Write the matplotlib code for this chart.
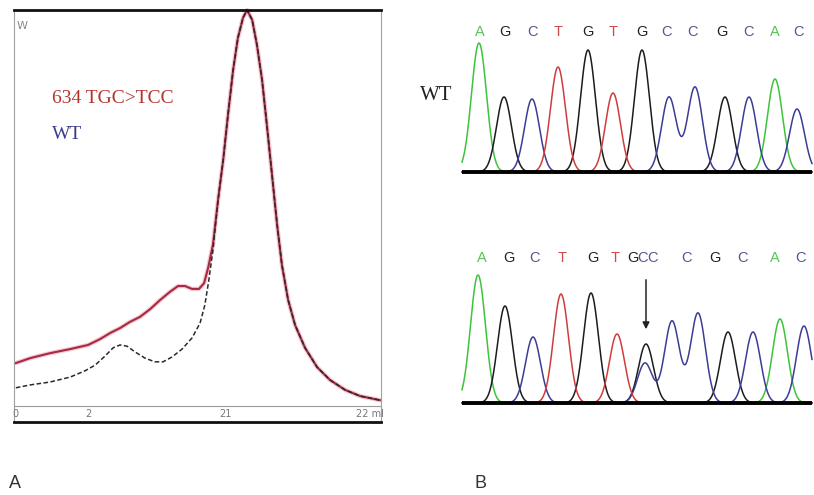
import numpy as np
import matplotlib.pyplot as plt

# ---- panel A: elution profiles (x = % of run, y = % of max signal)
# part of the trace that both samples share (main peak + tail)
shared_x = [55.6, 57.0, 58.3, 59.7, 61.0, 62.4, 63.5, 64.9, 66.2, 67.6, 68.9, 70.3,
            71.7, 73.0, 74.7, 76.6, 79.3, 82.6, 86.1, 90.2, 94.3, 99.7]
shared_y = [53.9, 63.6, 74.5, 85.4, 93.2, 98.1, 100.0, 97.6, 91.5, 83.0, 72.1, 60.0,
            47.8, 38.1, 29.6, 23.5, 18.0, 13.3, 10.2, 7.8, 6.3, 5.3]
mut_x = [0.5, 4.4, 9.8, 15.3, 20.2, 23.4, 26.2, 28.9, 31.6, 34.3, 37.1, 39.8,
         42.5, 44.7, 46.6, 48.5, 50.4, 51.8, 52.9, 54.2]
mut_y = [14.3, 15.5, 16.7, 17.7, 18.7, 20.1, 21.6, 22.8, 24.3, 25.5, 27.4, 29.6,
         31.6, 33.0, 33.0, 32.3, 32.3, 33.7, 37.4, 43.0]
wt_x = [0.5, 4.4, 9.8, 15.3, 19.3, 22.1, 24.8, 27.0, 28.9, 30.8, 33.0, 35.7,
        38.4, 40.6, 43.1, 45.8, 48.5, 50.7, 52.0, 53.1, 54.2]
wt_y = [8.3, 9.0, 9.7, 10.9, 12.4, 13.8, 16.0, 18.0, 18.7, 18.4, 17.0, 15.5,
        14.6, 14.6, 15.8, 17.7, 20.4, 24.0, 28.4, 34.5, 41.7]
tick_pos = [0.4, 20.2, 57.5, 97.0]
tick_lab = ["0", "2", "21", "22 ml"]

# ---- panel B: sequencing chromatograms (x = scan, y = signal)
wt_seq = list("AGCTGTGCCGCAC")
wt_seq_pos = [25, 50, 77, 103, 133, 158, 187, 212, 238, 267, 293, 320, 343]
wt_peak_pos = [24, 49, 77, 103, 133, 158, 187, 214, 240, 270, 294, 320, 342]
wt_peak_h = [129, 75, 73, 105, 122, 79, 122, 75, 85, 75, 75, 93, 63]

mut_seq = list("AGCTGTGCCCGCAC")
mut_seq_pos = [27, 54, 80, 107, 138, 160, 178, 188, 197, 232, 260, 287, 320, 345]
mut_peak_base = list("AGCTGTGCCCGCAC")
mut_peak_pos = [23, 50, 78, 106, 136, 162, 191, 190, 217, 243, 273, 298, 325, 349]
mut_peak_h = [128, 97, 66, 109, 110, 69, 59, 40, 82, 90, 71, 71, 84, 77]

base_col = {"A": "#3cc43c", "G": "#1c1c1c", "C": "#3c3c96", "T": "#d03c3c"}
letter_col = {"A": "#55c455", "G": "#222222", "C": "#555590", "T": "#d04848"}
sigma = 7.5

fig = plt.figure(figsize=(8.14, 4.95), dpi=100)

# panel A
ax = fig.add_axes([14/814, 73/495, 367/814, 412/495])
ax.set_xlim(0, 100)
ax.set_ylim(0, 100)
ax.set_xticks([])
ax.set_yticks([])
for s in ["top", "bottom"]:
    ax.spines[s].set_linewidth(2)
    ax.spines[s].set_color("#111111")
for s in ["left", "right"]:
    ax.spines[s].set_linewidth(0.8)
    ax.spines[s].set_color("#a0a0a0")
ax.axhline(3.9, color="#9a9a9a", lw=0.8)

mx = mut_x + shared_x
my = mut_y + shared_y
wx = wt_x + shared_x
wy = wt_y + shared_y
ax.plot(mx, my, color="#f7c8d4", lw=3.2, solid_capstyle="round", clip_on=False)
ax.plot(mx, my, color="#a62a40", lw=1.5, clip_on=False)
ax.plot(wx, wy, color="#2a2a2a", lw=1.1, ls=(0, (3, 1.6)), clip_on=False)

for p, t in zip(tick_pos, tick_lab):
    ax.text(p, 2.0, t, ha="center", va="center", fontsize=7, color="#777777")
ax.text(0.8, 96, "W", ha="left", va="center", fontsize=8, color="#888888")
ax.text(10.4, 78.6, "634 TGC>TCC", ha="left", va="center", fontsize=14,
        family="Liberation Serif", color="#b4342e")
ax.text(10.4, 69.7, "WT", ha="left", va="center", fontsize=14,
        family="Liberation Serif", color="#3c3c8c")


def chromatogram(ax, bases, pos, heights, seq, seq_pos, seq_y):
    x = np.linspace(7, 357, 1400)
    for b in "AGCT":
        y = np.zeros_like(x)
        for bb, p, h in zip(bases, pos, heights):
            if bb == b:
                y += h * np.exp(-(x - p) ** 2 / (2 * sigma ** 2))
        ax.plot(x, y, color=base_col[b], lw=1.1)
    ax.plot([7, 357], [0, 0], color="black", lw=2.8, solid_capstyle="butt")
    for l, p in zip(seq, seq_pos):
        ax.text(p, seq_y, l, ha="center", va="center", fontsize=10.5,
                color=letter_col[l], family="Liberation Sans")
    ax.set_xlim(0, 359)
    ax.axis("off")


axt = fig.add_axes([455/814, 315/495, 359/814, 160/495])
axt.set_ylim(-8, 152)
chromatogram(axt, wt_seq, wt_peak_pos, wt_peak_h, wt_seq, wt_seq_pos, 140)

axb = fig.add_axes([455/814, 85/495, 359/814, 165/495])
axb.set_ylim(-7, 158)
chromatogram(axb, mut_peak_base, mut_peak_pos, mut_peak_h, mut_seq, mut_seq_pos, 145)
axb.annotate("", xy=(191, 71), xytext=(191, 126),
             arrowprops=dict(arrowstyle="-|>", color="#222222", lw=1.1,
                             mutation_scale=10))

fig.text(436/814, 1 - 96/495, "WT", ha="center", va="center", fontsize=15,
         family="Liberation Serif", color="#222222")
fig.text(15/814, 1 - 483/495, "A", ha="center", va="center", fontsize=13,
         family="Liberation Sans", color="#333333")
fig.text(481/814, 1 - 483/495, "B", ha="center", va="center", fontsize=13,
         family="Liberation Sans", color="#333333")

fig.savefig("out.png", dpi=100)
